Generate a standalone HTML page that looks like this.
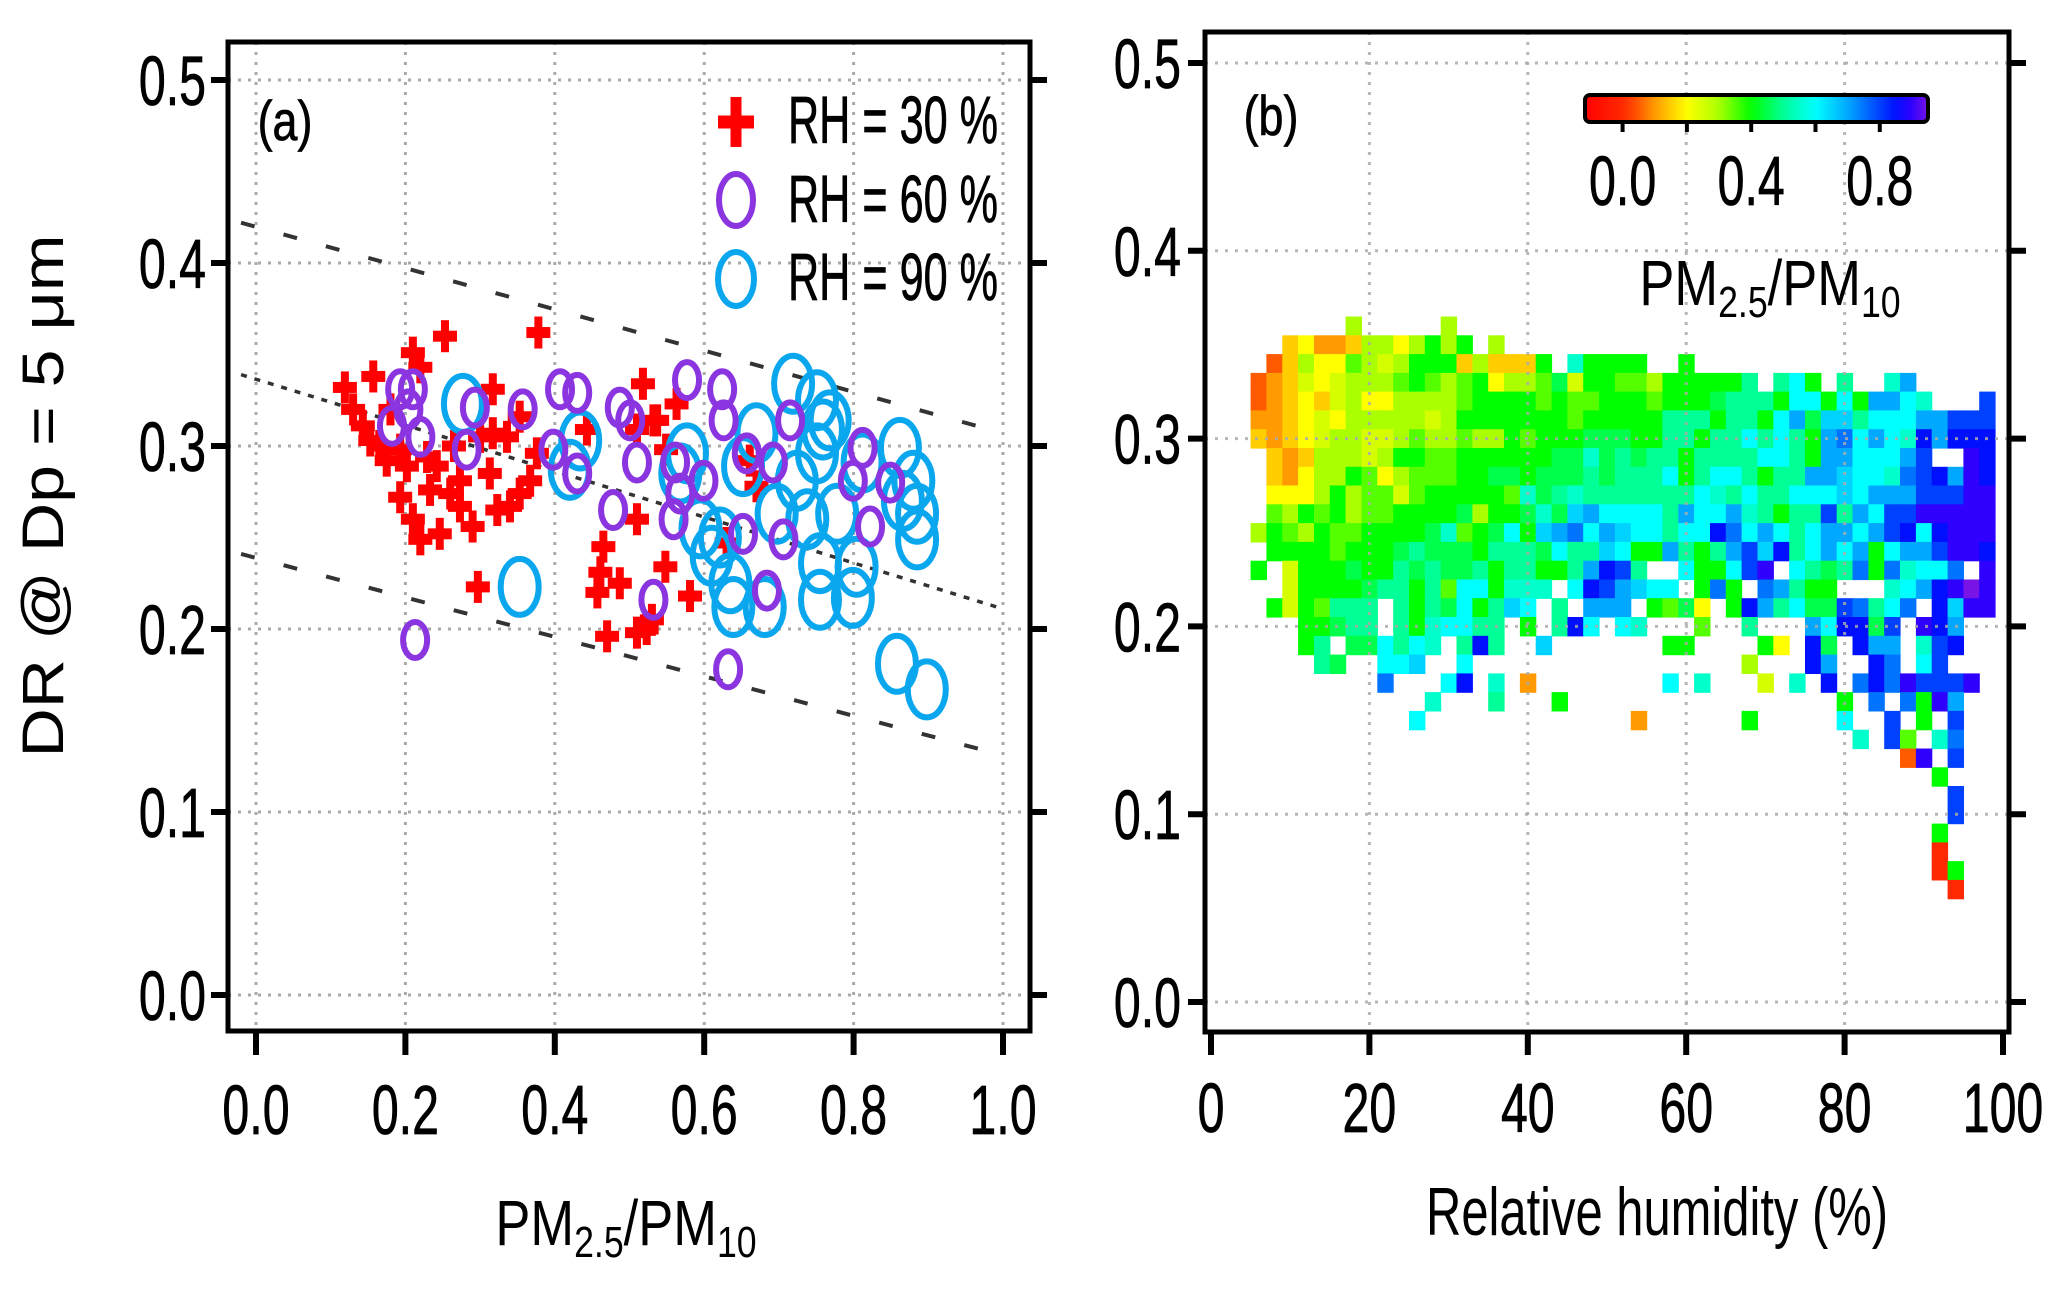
<!DOCTYPE html>
<html><head><meta charset="utf-8"><style>
html,body{margin:0;padding:0;background:#fff;}
svg{display:block;}
text{font-family:"Liberation Sans",sans-serif;fill:#000;}
</style></head><body>
<svg id="fig" width="2067" height="1293" viewBox="0 0 2067 1293" xmlns="http://www.w3.org/2000/svg">
<rect width="2067" height="1293" fill="#fff"/>
<g id="pa"></g>
<g id="pb"></g>
</svg>
<script>
// ---------- Panel (a) data ----------
const xTicksA = [0.0,0.2,0.4,0.6,0.8,1.0];
const xTickLabelsA = ["0.0","0.2","0.4","0.6","0.8","1.0"];
const yTicks = [0.0,0.1,0.2,0.3,0.4,0.5];
const yTickLabels = ["0.0","0.1","0.2","0.3","0.4","0.5"];
const rh30x = [0.253,0.378,0.119,0.157,0.210,0.220,0.130,0.143,0.153,0.193,0.175,0.202,0.229,0.242,0.317,0.317,0.336,0.353,0.193,0.233,0.260,0.273,0.210,0.220,0.246,0.273,0.290,0.313,0.323,0.340,0.367,0.353,0.297,0.376,0.518,0.532,0.510,0.465,0.461,0.457,0.487,0.510,0.470,0.510,0.523,0.443,0.537,0.563,0.548,0.581,0.661,0.670,0.630,0.530,0.549,0.180,0.165,0.265,0.300];
const rh30y = [0.360,0.362,0.332,0.338,0.351,0.343,0.320,0.311,0.303,0.298,0.292,0.289,0.294,0.289,0.331,0.307,0.305,0.316,0.272,0.276,0.274,0.281,0.260,0.249,0.252,0.267,0.256,0.285,0.265,0.267,0.281,0.274,0.223,0.296,0.334,0.314,0.309,0.245,0.231,0.220,0.225,0.260,0.196,0.198,0.200,0.309,0.314,0.323,0.234,0.218,0.292,0.278,0.247,0.205,0.298,0.320,0.300,0.300,0.305];
const rh60x = [0.577,0.624,0.626,0.561,0.568,0.559,0.599,0.657,0.692,0.715,0.812,0.799,0.849,0.822,0.652,0.706,0.684,0.532,0.632,0.193,0.210,0.182,0.220,0.204,0.293,0.282,0.357,0.407,0.430,0.398,0.430,0.487,0.501,0.510,0.478,0.213];
const rh60y = [0.336,0.331,0.314,0.291,0.274,0.260,0.281,0.296,0.291,0.314,0.299,0.281,0.280,0.256,0.252,0.249,0.221,0.216,0.178,0.331,0.331,0.311,0.305,0.320,0.321,0.298,0.320,0.331,0.329,0.298,0.285,0.321,0.314,0.291,0.265,0.194];
const rh90x = [0.719,0.751,0.759,0.751,0.670,0.652,0.577,0.568,0.621,0.635,0.639,0.681,0.697,0.738,0.755,0.755,0.799,0.804,0.778,0.812,0.862,0.880,0.885,0.885,0.866,0.858,0.898,0.768,0.724,0.277,0.353,0.434,0.420,0.595,0.610];
const rh90y = [0.334,0.325,0.309,0.296,0.307,0.289,0.296,0.285,0.250,0.225,0.212,0.212,0.263,0.260,0.236,0.216,0.217,0.234,0.263,0.291,0.299,0.281,0.263,0.249,0.270,0.181,0.167,0.314,0.281,0.323,0.223,0.303,0.287,0.255,0.240];
const refLinesStart = [0.422,0.339,0.241];
const refLinesEnd = [0.307,0.211,0.131];
const refLineX = [-0.02,1.0];

// ---------- Panel (b) data ----------
const xTicksB = [0,20,40,60,80,100];
const xTickLabelsB = ["0","20","40","60","80","100"];
const cbTicks = [0.0,0.2,0.4,0.6,0.8];
const cbTickLabels = ["0.0","","0.4","","0.8"];
const cellRH = Array.from({length:47},(_,k)=>6+2*k);
const cellDR = Array.from({length:31},(_,j)=>0.36-0.01*j);
const cellRows = [
"......3.....3",
"..b211b3323434.3",
".ab322d3c3444b3bbb4.f4444..4",
"a1bc2c333d"+"4d3d4233de"+"c44dd34444"+"45.564.5.."+"f7",
"a1b2bc3223"+"333d4444d4"+"dd444d444e"+"5554664647"+"76f...8",
"11b2c23333"+"3c34444444"+"d444445554"+"55467egg56"+"6677888",
"b1b2c33cc3"+"d33d334d44"+"4eee445545"+"5656547h67"+"6fi7iii",
".b1b333c34"+"4dd444444e"+"efe5e55455"+"5566547766"+"678..9i",
".b12334d23"+"ddd44ee4ee"+"e5e5556456"+"6545577g66"+"fh8i79i",
".222343ddc"+"d44444dfe5"+"f55555556f"+"5655666g67"+"7788899",
".d34d43dd4"+"444e344efe"+"g766665766"+"7f54558576"+"8899999",
"34d34dd444"+"4efd4e64g7"+"h67g66566i"+"h676567767"+"8i6i999",
".4444d444e"+"5eee4555e6"+"55g6447545"+"78gi567674"+"677899i",
"4.c444e445"+"e5ee545544"+"57i85..644"+"689.65e5h4"+"hf66h.9",
"..c4444e55"+"45d664fff."+"6i87g66.4h"+"4.h7544..."+"f67i9j9",
".4c4d555.5"+"45e645g6.5"+".777.4de2."+"4i756ee8h5"+"6h.ig99",
"...44e55.5"+"4f6655.4.5"+"i6.6f...d."+".5...76iie"+"8.9i7..",
"...45.ee65"+"6f.5i5..g."+"......44.."+"..42.ie.i7"+"7.f8i..",
"....5e..66"+"g..6......"+".........."+".3...i7..i"+"h.68...",
"........h."+"..6i.f.1.."+"......6.f."+"..c.f.i.hi"+"h98889.",
"...........f...5...4"+".........."+".......4.h"+".h497..",
"..........6........."+"....1....."+".4.....6.."+"8.4.8..",
"......................................f."+"8d.fh..",
".........................................a9.8",
"...........................................4",
"............................................8",
"............................................8",
"...........................................4",
"...........................................0",
"...........................................04",
"............................................0"
];

const NS="http://www.w3.org/2000/svg";
function mk(tag,attrs,parent){const e=document.createElementNS(NS,tag);for(const k in attrs)e.setAttribute(k,attrs[k]);parent.appendChild(e);return e;}
function txt(parent,x,y,s,fs,anchor,sx,name){
  const t=mk('text',{'transform':`translate(${x},${y}) scale(${sx},1)`,'font-size':fs,'text-anchor':anchor,'stroke':'#000','stroke-width':0.8},parent);
  t.textContent=s;
  
  
  return t;
}
function colorOf(v){
  const st=[[-0.12,[255,0,0]],[0.0,[255,40,0]],[0.05,[255,90,0]],[0.1,[255,155,0]],[0.15,[255,205,0]],[0.2,[255,255,0]],[0.3,[170,255,0]],[0.4,[0,255,0]],[0.5,[0,255,150]],[0.6,[0,255,255]],[0.7,[0,168,255]],[0.8,[0,64,255]],[0.85,[0,16,255]],[0.9,[48,0,255]],[0.95,[120,20,230]]];
  if(v<=st[0][0])return `rgb(${st[0][1]})`;
  for(let i=1;i<st.length;i++){if(v<=st[i][0]){const a=st[i-1],b=st[i];const t=(v-a[0])/(b[0]-a[0]);const c=a[1].map((q,n)=>Math.round(q+(b[1][n]-q)*t));return `rgb(${c})`;}}
  return `rgb(${st[st.length-1][1]})`;
}
function decode(ch){if(ch>='0'&&ch<='9')return (+ch)/10;return ('abcdefghij'.indexOf(ch))/10+0.05;}

// ---------- Panel (a) ----------
const pa=document.getElementById('pa');
const xa=v=>256+v*747, ya=v=>995-v*1830;
const A={l:228,t:42,r:1030,b:1031};
const gA=mk('g',{},pa);


xTicksA.forEach(v=>mk('line',{x1:xa(v),x2:xa(v),y1:A.t,y2:A.b,stroke:'#aaa','stroke-width':3,'stroke-dasharray':'3 7'},gA));
yTicks.forEach(v=>mk('line',{x1:A.l,x2:A.r,y1:ya(v),y2:ya(v),stroke:'#aaa','stroke-width':3,'stroke-dasharray':'3 7'},gA));
refLinesStart.forEach((s,i)=>{
  const l=mk('line',{x1:xa(refLineX[0]),y1:ya(s),x2:xa(refLineX[1]),y2:ya(refLinesEnd[i]),stroke:'#333','stroke-width':i==1?3.5:4,'stroke-dasharray':i==1?'6 8':'14 30'},pa);
  
  
});
function cross(parent,cx,cy,w,h,tw,th){
  const g=mk('g',{fill:'#ff0000'},parent);
  mk('rect',{x:cx-w/2,y:cy-th/2,width:w,height:th},g);
  mk('rect',{x:cx-tw/2,y:cy-h/2,width:tw,height:h},g);
  return g;
}
const s30=mk('g',{},pa);


rh30x.forEach((x,i)=>{const c=cross(s30,xa(x),ya(rh30y[i]),24,32,8,11);});
const s90=mk('g',{},pa);


rh90x.forEach((x,i)=>{const e=mk('ellipse',{cx:xa(x),cy:ya(rh90y[i]),rx:19,ry:28,fill:'none',stroke:'#0aa6ee','stroke-width':6},s90);});
const s60=mk('g',{},pa);


rh60x.forEach((x,i)=>{const e=mk('ellipse',{cx:xa(x),cy:ya(rh60y[i]),rx:12,ry:18,fill:'none',stroke:'#8a35e0','stroke-width':6},s60);});
const fa=mk('rect',{x:A.l,y:A.t,width:A.r-A.l,height:A.b-A.t,fill:'none',stroke:'#000','stroke-width':5},pa);


yTicks.forEach((v,i)=>{
  mk('line',{x1:211,x2:A.l,y1:ya(v),y2:ya(v),stroke:'#000','stroke-width':6},pa);
  mk('line',{x1:A.r,x2:1047,y1:ya(v),y2:ya(v),stroke:'#000','stroke-width':6},pa);
  txt(pa,206,ya(v)+25,yTickLabels[i],70,'end',0.69,'y-tick-label-a');
});
xTicksA.forEach((v,i)=>{
  mk('line',{x1:xa(v),x2:xa(v),y1:A.b,y2:1055,stroke:'#000','stroke-width':6},pa);
  txt(pa,xa(v),1134,xTickLabelsA[i],70,'middle',0.69,'x-tick-label-a');
});
txt(pa,285,140,'(a)',56,'middle',0.8,'panel-label-a');
const lg=mk('g',{},pa);


const lc=cross(lg,736,122,36,50,11,13);


const lp=mk('ellipse',{cx:736,cy:200,rx:17,ry:26,fill:'none',stroke:'#8a35e0','stroke-width':6},lg);


const lcy=mk('ellipse',{cx:736,cy:279,rx:18,ry:27,fill:'none',stroke:'#0aa6ee','stroke-width':6},lg);


[['RH = 30 %',143],['RH = 60 %',222],['RH = 90 %',300]].forEach(([s,y])=>{
  const t=mk('text',{x:788,y:y,'font-size':67,textLength:210,lengthAdjust:'spacingAndGlyphs','stroke':'#000','stroke-width':0.8},lg);
  t.textContent=s;
  
  
});
const yt=mk('text',{transform:'translate(63,496) rotate(-90)','font-size':58,'text-anchor':'middle',textLength:523,lengthAdjust:'spacingAndGlyphs'},pa);
yt.textContent='DR @ Dp = 5 μm';


function pmLabel(parent,x,y,fs,name){
  const t=mk('text',{x:x,y:y,'font-size':fs,'text-anchor':'middle',transform:`translate(${x*(1-0.82)},0) scale(0.82,1)`},parent);
  
  
  const a=mk('tspan',{},t);a.textContent='PM';
  const b=mk('tspan',{'font-size':fs*0.68,dy:12},t);b.textContent='2.5';
  const c=mk('tspan',{dy:-12},t);c.textContent='/PM';
  const d=mk('tspan',{'font-size':fs*0.68,dy:12},t);d.textContent='10';
  return t;
}
pmLabel(pa,626,1245,64,'x-axis-title-a');

// ---------- Panel (b) ----------
const pb=document.getElementById('pb');
const xb=v=>1211+v*7.92, yb=v=>1002-v*1878;
const B={l:1205,t:32,r:2009,b:1032};
const hm=mk('g',{},pb);


cellRows.forEach((row,j)=>{
  for(let k=0;k<row.length;k++){
    const ch=row[k]; if(ch==='.')continue;
    const x0=xb(cellRH[k]-1), x1=xb(cellRH[k]+1), y0=yb(cellDR[j]+0.005), y1=yb(cellDR[j]-0.005);
    const r=mk('rect',{x:x0.toFixed(1),y:y0.toFixed(1),width:(x1-x0+0.6).toFixed(1),height:(y1-y0+0.6).toFixed(1),fill:colorOf(decode(ch))},hm);
    
    
  }
});
const gB=mk('g',{},pb);


xTicksB.slice(1,5).forEach(v=>mk('line',{x1:xb(v),x2:xb(v),y1:B.t,y2:B.b,stroke:'#aaa','stroke-width':3,'stroke-dasharray':'3 7','stroke-opacity':0.85},gB));
yTicks.forEach(v=>mk('line',{x1:B.l,x2:B.r,y1:yb(v),y2:yb(v),stroke:'#aaa','stroke-width':3,'stroke-dasharray':'3 7','stroke-opacity':0.85},gB));
const fb=mk('rect',{x:B.l,y:B.t,width:B.r-B.l,height:B.b-B.t,fill:'none',stroke:'#000','stroke-width':5},pb);


yTicks.forEach((v,i)=>{
  mk('line',{x1:1188,x2:B.l,y1:yb(v),y2:yb(v),stroke:'#000','stroke-width':6},pb);
  mk('line',{x1:B.r,x2:2026,y1:yb(v),y2:yb(v),stroke:'#000','stroke-width':6},pb);
  txt(pb,1181,yb(v)+25,yTickLabels[i],70,'end',0.69,'y-tick-label-b');
});
xTicksB.forEach((v,i)=>{
  mk('line',{x1:xb(v),x2:xb(v),y1:B.b,y2:1055,stroke:'#000','stroke-width':6},pb);
  txt(pb,xb(v),1132,xTickLabelsB[i],70,'middle',0.69,'x-tick-label-b');
});
txt(pb,1271,135,'(b)',56,'middle',0.8,'panel-label-b');
const xtb=mk('text',{x:1657,y:1235,'font-size':68,'text-anchor':'middle',textLength:462,lengthAdjust:'spacingAndGlyphs'},pb);
xtb.textContent='Relative humidity (%)';


const cbx=v=>1585+(v+0.117)/1.067*343;
const defs=mk('defs',{},pb);
const lgd=mk('linearGradient',{id:'cbg',x1:0,x2:1,y1:0,y2:0},defs);
for(let i=0;i<=40;i++){const v=-0.117+1.067*i/40;mk('stop',{offset:i/40,'stop-color':colorOf(v)},lgd);}
const cb=mk('rect',{x:1585,y:95,width:343,height:27,rx:5,fill:'url(#cbg)',stroke:'#000','stroke-width':4},pb);


cbTicks.forEach((v,i)=>{
  mk('line',{x1:cbx(v),x2:cbx(v),y1:120,y2:132,stroke:'#000','stroke-width':4},pb);
  if(cbTickLabels[i])txt(pb,cbx(v),205,cbTickLabels[i],70,'middle',0.69,'colorbar-tick-label');
});
pmLabel(pb,1770,305,64,'colorbar-title');
</script>
</body></html>
